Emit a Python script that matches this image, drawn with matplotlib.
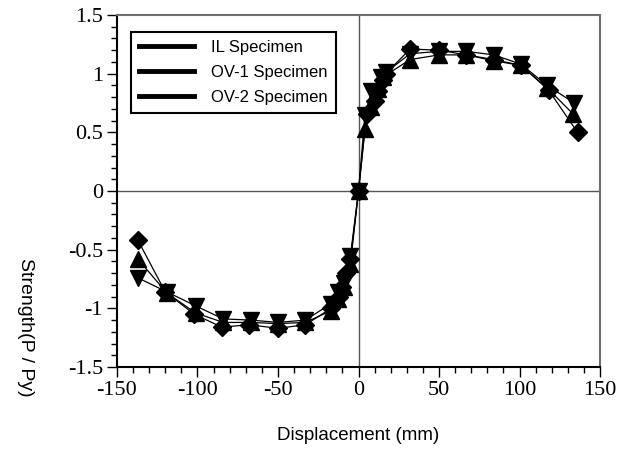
import matplotlib
matplotlib.use("Agg")
import matplotlib.pyplot as plt
from matplotlib.lines import Line2D
from matplotlib.ticker import MultipleLocator, FuncFormatter

# Data (displacement mm, strength P/Py)
il_x = [-137, -120, -102, -85, -68, -50, -33, -17, -12, -10, -8, -5, 0, 5, 10, 12, 15, 17, 32, 50, 67, 84, 101, 118, 136]
il_y = [-0.42, -0.86, -1.05, -1.16, -1.14, -1.17, -1.14, -1.00, -0.90, -0.82, -0.70, -0.58, 0.0, 0.66, 0.77, 0.85, 0.95, 1.00, 1.21, 1.20, 1.16, 1.12, 1.07, 0.86, 0.50]

ov1_x = [-137, -119, -101, -84, -67, -50, -33, -17, -13, -9, -5, 0, 4, 8, 12, 15, 32, 50, 67, 84, 101, 117, 133]
ov1_y = [-0.58, -0.87, -1.04, -1.12, -1.12, -1.13, -1.12, -1.02, -0.92, -0.82, -0.62, 0.0, 0.53, 0.72, 0.87, 0.97, 1.12, 1.16, 1.16, 1.11, 1.07, 0.88, 0.66]

ov2_x = [-137, -119, -101, -84, -67, -50, -33, -17, -13, -9, -5, 0, 4, 8, 14, 17, 32, 50, 67, 84, 101, 117, 134]
ov2_y = [-0.74, -0.86, -0.98, -1.09, -1.10, -1.12, -1.10, -0.96, -0.86, -0.78, -0.55, 0.0, 0.65, 0.85, 0.97, 1.01, 1.17, 1.19, 1.19, 1.16, 1.08, 0.90, 0.75]

labels = ["IL Specimen", "OV-1 Specimen", "OV-2 Specimen"]

fig = plt.figure(figsize=(6.33, 4.5), dpi=100)
ax = fig.add_axes([0.1848, 0.1844, 0.7632, 0.7823])

ax.axhline(0, color="#555555", lw=1.0, zorder=1)
ax.axvline(0, color="#555555", lw=1.0, zorder=1)

ax.plot(il_x, il_y, color="black", lw=0.9, marker="D", ms=9.5, mfc="black", mec="black", zorder=3)
ax.plot(ov1_x, ov1_y, color="black", lw=0.9, marker="^", ms=11.5, mfc="black", mec="black", zorder=3)
ax.plot(ov2_x, ov2_y, color="black", lw=0.9, marker="v", ms=11.5, mfc="black", mec="black", zorder=3)

ax.set_xlim(-150, 150)
ax.set_ylim(-1.5, 1.5)
ax.xaxis.set_major_locator(MultipleLocator(50))
ax.xaxis.set_minor_locator(MultipleLocator(10))
ax.yaxis.set_major_locator(MultipleLocator(0.5))
ax.yaxis.set_minor_locator(MultipleLocator(0.1))


def fmt(v, pos):
    if abs(v) < 1e-9:
        return "0"
    if abs(v - round(v)) < 1e-9:
        return "%d" % round(v)
    return "%g" % v


ax.xaxis.set_major_formatter(FuncFormatter(fmt))
ax.yaxis.set_major_formatter(FuncFormatter(fmt))

ax.tick_params(which="both", direction="out", color="black", width=1.0,
               top=False, right=False)
ax.tick_params(which="major", length=7, labelsize=16, pad=3)
ax.tick_params(which="minor", length=4.5)
for lab in ax.get_xticklabels() + ax.get_yticklabels():
    lab.set_fontfamily("Liberation Serif")

for s in ["left", "bottom"]:
    ax.spines[s].set_color("black")
    ax.spines[s].set_linewidth(1.5)
for s in ["top", "right"]:
    ax.spines[s].set_color("#6e6e6e")
    ax.spines[s].set_linewidth(1.5)

handles = [Line2D([], [], color="black", lw=3.5) for _ in labels]
leg = ax.legend(handles, labels, loc="upper left", bbox_to_anchor=(0.029, 0.952),
                borderaxespad=0, fancybox=False, edgecolor="black", framealpha=1,
                prop={"family": "Liberation Sans", "size": 12},
                handlelength=3.3, handletextpad=1.0, labelspacing=0.58, borderpad=0.5)
leg.get_frame().set_linewidth(1.5)

fig.text(0.5665, 0.033, "Displacement (mm)", ha="center", va="center",
         fontsize=13.5, family="Liberation Sans")
fig.text(0.04, 0.273, "Strength(P / Py)", ha="center", va="center", rotation=-90,
         fontsize=14, family="Liberation Sans")

fig.savefig("out.png", dpi=100)
